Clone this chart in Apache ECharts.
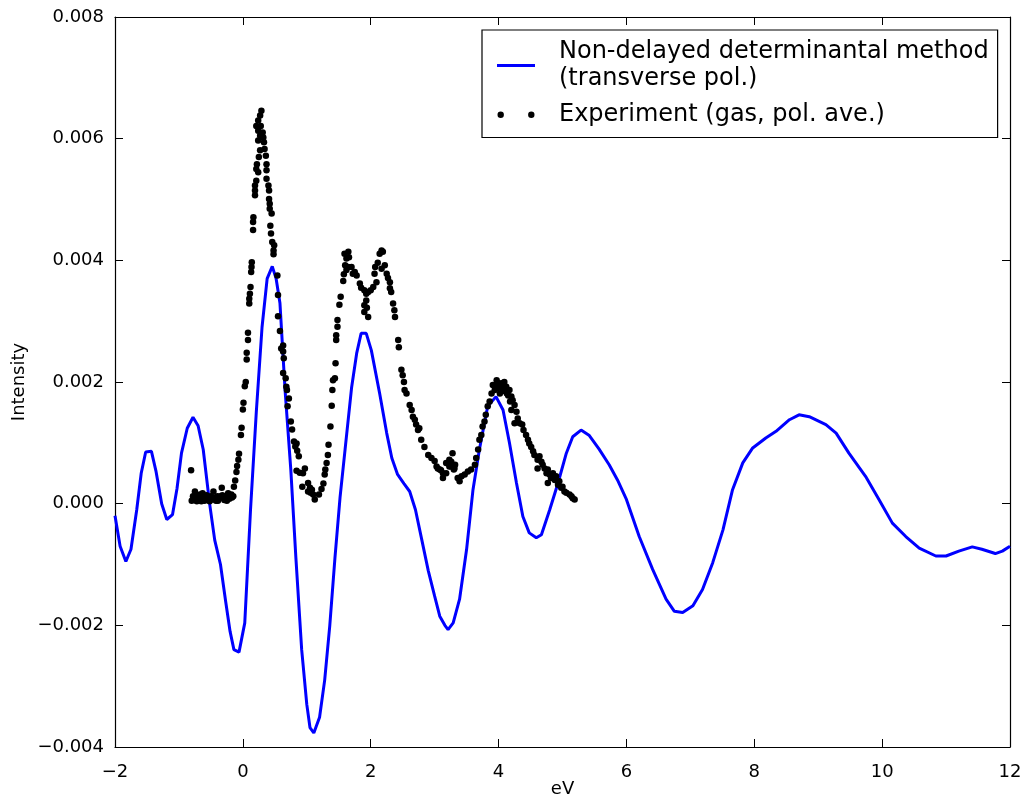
<!DOCTYPE html>
<html>
<head>
<meta charset="utf-8">
<script src="https://cdn.jsdelivr.net/npm/echarts@6/dist/echarts.min.js"></script>
<style>
  html, body { margin: 0; padding: 0; background: #fff; }
  #chart { width: 1024px; height: 799px; }
</style>
</head>
<body>
<div id="chart"></div>
<script>
// Axis ranges and ticks
const xTicks = [-2, 0, 2, 4, 6, 8, 10, 12];
const yTicks = [-0.004, -0.002, 0.000, 0.002, 0.004, 0.006, 0.008];

const lineName = 'Non-delayed determinantal method\n(transverse pol.)';
const dotsName = 'Experiment (gas, pol. ave.)';

// Calculated spectrum: [energy (eV), intensity]
const theoryCurve = [
  [-2.0, -0.0002], [-1.92, -0.0007], [-1.83, -0.00095], [-1.75, -0.00075], [-1.66, -0.0001],
  [-1.59, 0.0005], [-1.52, 0.00085], [-1.43, 0.00086], [-1.36, 0.00054], [-1.27, 0.0],
  [-1.19, -0.00026], [-1.1, -0.00018], [-1.03, 0.00025], [-0.96, 0.00083], [-0.87, 0.00124],
  [-0.78, 0.00142], [-0.70, 0.00128], [-0.62, 0.00089], [-0.52, 0.0], [-0.44, -0.0006],
  [-0.35, -0.0010], [-0.27, -0.0016], [-0.2, -0.0021], [-0.14, -0.0024], [-0.06, -0.00244],
  [0.03, -0.00196], [0.12, -0.0001], [0.21, 0.0015], [0.3, 0.0029], [0.38, 0.0037],
  [0.46, 0.0039], [0.52, 0.0037], [0.58, 0.0033], [0.66, 0.00187], [0.75, 0.00056],
  [0.83, -0.0009], [0.92, -0.0024], [1.0, -0.0033], [1.05, -0.00368], [1.11, -0.00377],
  [1.2, -0.00351], [1.28, -0.0029], [1.36, -0.002], [1.44, -0.0009], [1.52, 0.0001],
  [1.6, 0.0009], [1.7, 0.0019], [1.78, 0.00247], [1.85, 0.0028], [1.93, 0.0028],
  [2.01, 0.00252], [2.14, 0.00181], [2.25, 0.00116], [2.33, 0.00075], [2.42, 0.00048],
  [2.52, 0.00033], [2.61, 0.0002], [2.7, -0.0001], [2.8, -0.0006], [2.9, -0.0011],
  [3.0, -0.00152], [3.08, -0.00185],
  [3.16, -0.002], [3.21, -0.00207], [3.29, -0.00196], [3.39, -0.00157], [3.5, -0.00075],
  [3.6, 0.00023], [3.7, 0.00089], [3.83, 0.0016], [3.96, 0.00176], [4.07, 0.00154],
  [4.17, 0.001], [4.28, 0.00034], [4.38, -0.00021], [4.48, -0.00048], [4.59, -0.00056],
  [4.67, -0.00051], [4.8, -0.0001], [4.93, 0.00034], [5.06, 0.00083], [5.16, 0.0011],
  [5.29, 0.00121], [5.42, 0.00112], [5.57, 0.0009], [5.73, 0.00064], [5.86, 0.00039],
  [6.0, 0.00007], [6.2, -0.00054], [6.41, -0.00108], [6.62, -0.00157], [6.75, -0.00177],
  [6.88, -0.00179], [7.04, -0.00168], [7.19, -0.00141], [7.35, -0.00097], [7.51, -0.00043],
  [7.66, 0.00023], [7.82, 0.00067], [7.97, 0.00091], [8.18, 0.00108], [8.34, 0.00119],
  [8.55, 0.00138], [8.7, 0.00146], [8.86, 0.00143], [9.12, 0.0013], [9.28, 0.00116],
  [9.48, 0.00083], [9.74, 0.00045], [9.95, 0.00007], [10.16, -0.00032], [10.37, -0.00054],
  [10.58, -0.00073], [10.84, -0.00086], [11.0, -0.00086], [11.2, -0.00078], [11.41, -0.00071],
  [11.56, -0.00075], [11.77, -0.00082], [11.88, -0.00078], [12.0, -0.0007]
];

// Measured spectrum: [energy (eV), intensity]
const experimentPoints = [
  [-0.81, 0.00055], [-0.80, 0.00005], [-0.78, 0.00012], [-0.76, 0.00006], [-0.75, 0.0002],
  [-0.73, 0.00008], [-0.72, 0.00004], [-0.70, 0.00013], [-0.68, 0.00006], [-0.67, 0.00015],
  [-0.65, 0.00004], [-0.63, 0.00017], [-0.62, 0.00009], [-0.60, 0.00005], [-0.59, 0.00011],
  [-0.57, 0.00014], [-0.55, 0.00006], [-0.54, 0.0001], [-0.52, 0.00004], [-0.50, 0.00012],
  [-0.48, 0.00007], [-0.46, 0.0002], [-0.45, 0.0001], [-0.44, 0.00009], [-0.42, 0.00005],
  [-0.40, 0.00012], [-0.39, 0.00005], [-0.37, 0.00009], [-0.35, 0.00012], [-0.33, 0.00026],
  [-0.32, 0.00014], [-0.31, 0.0001], [-0.29, 0.00006], [-0.27, 0.00012], [-0.25, 0.00005],
  [-0.24, 0.00011], [-0.23, 0.00017], [-0.21, 0.00008], [-0.20, 0.00013], [-0.18, 0.00015],
  [-0.17, 0.0001], [-0.15, 0.00012], [-0.14, 0.00028], [-0.12, 0.00038], [-0.10, 0.00052],
  [-0.09, 0.00062], [-0.07, 0.00072], [-0.06, 0.00082], [-0.03, 0.00113], [-0.02, 0.00125],
  [0.0, 0.00155], [0.01, 0.00166], [0.03, 0.00193], [0.045, 0.002], [0.06, 0.00237],
  [0.06, 0.00248], [0.08, 0.00269], [0.08, 0.00281], [0.10, 0.00329], [0.10, 0.00337],
  [0.11, 0.00345], [0.12, 0.00356], [0.13, 0.00381], [0.135, 0.00389], [0.14, 0.00397],
  [0.16, 0.0045], [0.16, 0.00463], [0.165, 0.00471], [0.19, 0.00507], [0.19, 0.00515],
  [0.19, 0.00523], [0.21, 0.00531], [0.21, 0.0055], [0.22, 0.00558], [0.24, 0.00545],
  [0.25, 0.0057], [0.27, 0.00581], [0.24, 0.00597], [0.27, 0.00605], [0.24, 0.00613],
  [0.21, 0.00621], [0.24, 0.0063], [0.27, 0.00638], [0.29, 0.00646], [0.28, 0.00621],
  [0.31, 0.0061], [0.32, 0.00602], [0.33, 0.00594], [0.34, 0.00583], [0.36, 0.00572],
  [0.37, 0.00558], [0.37, 0.00548], [0.37, 0.00534], [0.40, 0.00523], [0.41, 0.00515],
  [0.41, 0.00501], [0.42, 0.00493], [0.42, 0.00485], [0.45, 0.00477], [0.43, 0.00457],
  [0.44, 0.00444], [0.46, 0.0043], [0.49, 0.00425], [0.48, 0.00416], [0.48, 0.0041],
  [0.54, 0.00375], [0.55, 0.00343], [0.55, 0.00308], [0.58, 0.00284], [0.60, 0.00255],
  [0.63, 0.0026], [0.63, 0.0025], [0.64, 0.00239], [0.63, 0.00215], [0.67, 0.00206],
  [0.68, 0.00192], [0.69, 0.00187], [0.72, 0.00173], [0.70, 0.0016], [0.75, 0.00135],
  [0.77, 0.00122], [0.80, 0.00102], [0.84, 0.00099], [0.82, 0.00094], [0.85, 0.00087],
  [0.875, 0.00078], [0.84, 0.00054], [0.89, 0.00051], [0.94, 0.0005], [0.97, 0.00058],
  [0.93, 0.00028], [1.02, 0.00034], [1.05, 0.00026], [1.02, 0.0002], [1.06, 0.00018],
  [1.08, 0.00023], [1.125, 0.00007], [1.10, 0.00015], [1.19, 0.00015], [1.23, 0.00024],
  [1.26, 0.00033], [1.28, 0.00048], [1.29, 0.00056], [1.31, 0.00067], [1.33, 0.0008],
  [1.34, 0.00097], [1.37, 0.00127], [1.39, 0.00161], [1.40, 0.00187], [1.41, 0.00203],
  [1.44, 0.00206], [1.45, 0.00231], [1.46, 0.00269], [1.46, 0.00277], [1.48, 0.00291],
  [1.48, 0.00302], [1.51, 0.00327], [1.53, 0.0034], [1.57, 0.00366], [1.58, 0.00377],
  [1.59, 0.00411], [1.60, 0.00392], [1.62, 0.00384], [1.62, 0.00403], [1.65, 0.00414],
  [1.66, 0.00405], [1.65, 0.00389], [1.70, 0.00389], [1.72, 0.00378], [1.75, 0.00381],
  [1.78, 0.00375], [1.83, 0.00362], [1.85, 0.00355], [1.90, 0.00351], [1.93, 0.00345],
  [1.90, 0.00326], [1.93, 0.00334], [1.90, 0.00315], [1.96, 0.00307], [1.96, 0.00348],
  [1.94, 0.00322], [2.00, 0.00351], [2.04, 0.00356], [2.06, 0.00378], [2.07, 0.00389],
  [2.09, 0.00364], [2.11, 0.00396], [2.14, 0.00411], [2.17, 0.00416], [2.19, 0.00414],
  [2.17, 0.00386], [2.22, 0.00392], [2.25, 0.00378], [2.27, 0.00371], [2.30, 0.00364],
  [2.30, 0.00354], [2.32, 0.00348], [2.35, 0.00329], [2.37, 0.00318], [2.38, 0.00307],
  [2.43, 0.00269], [2.44, 0.00257], [2.48, 0.0022], [2.50, 0.00211], [2.52, 0.002],
  [2.53, 0.00187], [2.56, 0.00181], [2.61, 0.00162], [2.64, 0.00154], [2.66, 0.00143],
  [2.69, 0.00138], [2.71, 0.0013], [2.74, 0.00121], [2.76, 0.00124], [2.79, 0.00105],
  [2.84, 0.00093], [2.90, 0.0008], [2.95, 0.00075], [3.00, 0.0007], [3.03, 0.00061],
  [3.05, 0.00058], [3.08, 0.00056], [3.10, 0.00055], [3.13, 0.0005], [3.13, 0.00042],
  [3.18, 0.00067], [3.18, 0.0005], [3.23, 0.00072], [3.23, 0.00061], [3.26, 0.00069],
  [3.28, 0.00083], [3.26, 0.00061], [3.30, 0.00056], [3.31, 0.00058], [3.32, 0.00064],
  [3.36, 0.00042], [3.39, 0.00037], [3.42, 0.00045], [3.47, 0.00048], [3.52, 0.00053],
  [3.57, 0.00056], [3.63, 0.00064], [3.65, 0.00075], [3.68, 0.00089], [3.70, 0.00105],
  [3.73, 0.00113], [3.75, 0.00127], [3.78, 0.00135], [3.80, 0.00146], [3.83, 0.0016],
  [3.86, 0.00168], [3.89, 0.00181], [3.91, 0.00195], [3.94, 0.00187], [3.95, 0.00195],
  [3.97, 0.00203], [3.99, 0.0019], [4.00, 0.00197], [4.02, 0.00181], [4.04, 0.00198],
  [4.06, 0.00193], [4.07, 0.00187], [4.09, 0.002], [4.10, 0.00185], [4.12, 0.00192],
  [4.13, 0.00181], [4.15, 0.00178], [4.17, 0.00187], [4.18, 0.00168], [4.20, 0.00176],
  [4.22, 0.0017], [4.25, 0.00162], [4.20, 0.00154], [4.28, 0.00151], [4.30, 0.0014],
  [4.25, 0.00132], [4.33, 0.00132], [4.37, 0.0013], [4.39, 0.00121], [4.43, 0.00113],
  [4.46, 0.00105], [4.48, 0.00099], [4.51, 0.00093], [4.54, 0.00086], [4.56, 0.0008],
  [4.61, 0.00072], [4.64, 0.00078], [4.67, 0.00069], [4.61, 0.00058], [4.69, 0.00064],
  [4.72, 0.00058], [4.75, 0.0005], [4.77, 0.00056], [4.80, 0.00048], [4.82, 0.00042],
  [4.77, 0.00034], [4.85, 0.0005], [4.88, 0.00039], [4.90, 0.00045], [4.93, 0.00031],
  [4.95, 0.00037], [4.98, 0.00026], [5.00, 0.00028], [5.03, 0.0002], [5.06, 0.00018],
  [5.11, 0.00015], [5.14, 0.00012], [5.16, 0.00009], [5.19, 0.00007]
];

const FONT = 'DejaVu Sans';
const minus = s => String(s).replace('-', '\u2212');

const chart = echarts.init(document.getElementById('chart'), null, { renderer: 'canvas' });

const tickStyle = { show: true, inside: true, length: 8, lineStyle: { color: '#000', width: 1 } };
const frameLine = { show: true, onZero: false, lineStyle: { color: '#000', width: 1.2 } };

const xRange = { min: xTicks[0], max: xTicks[xTicks.length - 1], interval: xTicks[1] - xTicks[0] };
const yRange = { min: yTicks[0], max: yTicks[yTicks.length - 1], interval: 0.002 };

chart.setOption({
  backgroundColor: '#fff',
  animation: false,
  grid: { left: 115, right: 14, top: 17, bottom: 52, containLabel: false, outerBoundsMode: 'none' },
  legend: {
    orient: 'vertical',
    left: 482,
    top: 30,
    padding: [8, 9, 9, 15],
    itemGap: 8,
    itemWidth: 38,
    itemHeight: 10,
    backgroundColor: '#fff',
    borderColor: '#000',
    borderWidth: 1.2,
    borderRadius: 0,
    selectedMode: false,
    itemStyle: { borderWidth: 0, opacity: 1 },
    textStyle: {
      fontFamily: FONT, fontSize: 24, color: '#000', lineHeight: 27.5,
      padding: [0, 0, 0, 19]
    },
    data: [
      { name: lineName, icon: 'path://M0,0 M38,10 M0,3.5 L38,3.5 L38,6.5 L0,6.5 Z' },
      { name: dotsName, icon: 'path://M0,0 M38,10 M0.5,5 A3.2,3.2 0 1,1 6.9,5 A3.2,3.2 0 1,1 0.5,5 Z M31.1,5 A3.2,3.2 0 1,1 37.5,5 A3.2,3.2 0 1,1 31.1,5 Z' }
    ]
  },
  xAxis: [
    {
      type: 'value', position: 'bottom', ...xRange,
      name: 'eV', nameLocation: 'middle', nameGap: 33, nameMoveOverlap: false,
      nameTextStyle: { fontFamily: FONT, fontSize: 18, color: '#000' },
      axisLine: frameLine, axisTick: tickStyle, splitLine: { show: false },
      axisLabel: { fontFamily: FONT, fontSize: 18, color: '#000', margin: 16, formatter: v => minus(v) }
    },
    {
      type: 'value', position: 'top', ...xRange,
      axisLine: frameLine, axisTick: tickStyle, splitLine: { show: false },
      axisLabel: { show: false }
    }
  ],
  yAxis: [
    {
      type: 'value', position: 'left', ...yRange,
      name: 'Intensity', nameLocation: 'middle', nameGap: 87, nameRotate: 90, nameMoveOverlap: false,
      nameTextStyle: { fontFamily: FONT, fontSize: 18, color: '#000' },
      axisLine: frameLine, axisTick: tickStyle, splitLine: { show: false },
      axisLabel: { fontFamily: FONT, fontSize: 18, color: '#000', margin: 11,
        formatter: v => minus(v.toFixed(3)) }
    },
    {
      type: 'value', position: 'right', ...yRange,
      axisLine: frameLine, axisTick: tickStyle, splitLine: { show: false },
      axisLabel: { show: false }
    }
  ],
  series: [
    {
      name: lineName,
      type: 'line',
      data: theoryCurve,
      showSymbol: false,
      symbol: 'none',
      smooth: false,
      color: '#0000ff',
      lineStyle: { color: '#0000ff', width: 3 },
      z: 2
    },
    {
      name: dotsName,
      type: 'scatter',
      data: experimentPoints,
      symbol: 'circle',
      symbolSize: 6.5,
      color: '#000',
      itemStyle: { color: '#000', opacity: 1 },
      z: 3
    }
  ]
});
</script>
</body>
</html>
